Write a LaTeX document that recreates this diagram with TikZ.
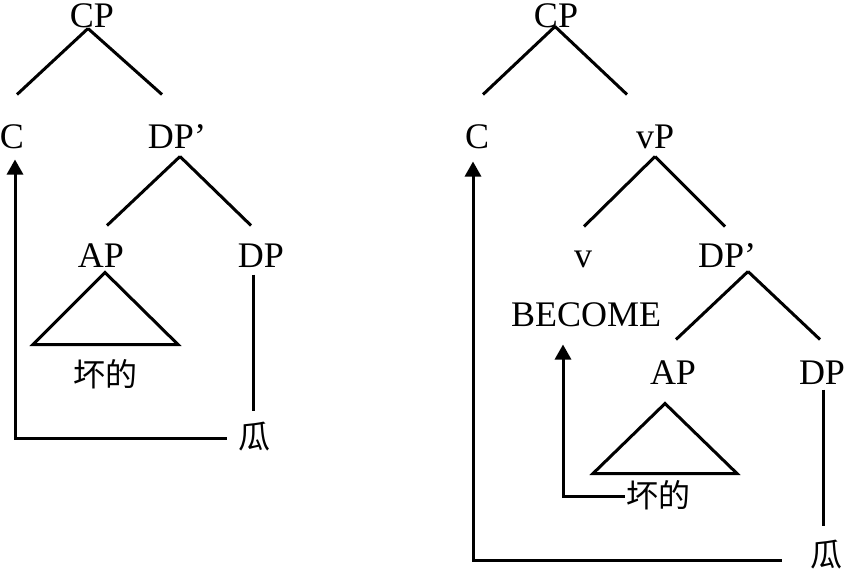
\documentclass[tikz,border=0pt]{standalone}
\usepackage{fontspec}
\setmainfont{Liberation Serif}
\newfontfamily\cjkfont{Noto Sans CJK SC}
\usetikzlibrary{calc, arrows.meta}

\begin{document}
\begin{tikzpicture}[
          x=0.5pt, y=-0.5pt,
          line width=1.5pt,
          cat/.style={
              inner sep=0pt, anchor=base,
              text height=11.5pt, text depth=0pt,
              font=\fontsize{18}{21}\selectfont
          },
          word/.style={
              inner sep=0pt, anchor=base,
              text height=13pt, text depth=0pt,
              font=\fontsize{16}{20}\selectfont\cjkfont
          },
          >={Triangle[length=7.5pt, width=8pt]},
      ]
          \useasboundingbox (0,0) rectangle (850,573);

          % Left tree
          \node [cat] (cpL) at (92,27) {CP};
          \node [cat] (cL) at (12,148) {C};
          \node [cat] (dpbarL) at (177,148) {DP’};
          \node [cat] (apL) at (101,267) {AP};
          \node [cat] (dpL) at (261,267) {DP};
          \node [word] (hdL) at (105,386) {坏的};
          \node [word] (guaL) at (254,448) {瓜};

          \draw ($(cpL.south)+(-4,0)$) -- ($(cL.north)+(5,-29)$);
          \draw ($(cpL.south)+(-4,0)$) -- ($(dpbarL.north)+(-15,-29)$);
          \draw ($(dpbarL.south)+(3,7)$) -- ($(apL.north)+(6,-17)$);
          \draw ($(dpbarL.south)+(3,7)$) -- ($(dpL.north)+(-10,-17)$);
          \draw ($(apL.south)+(4,4)$) -- ++(-72,72) -- ++(145,0) -- cycle;
          \draw ($(dpL.south)+(-8,6)$) -- ($(guaL.north)+(-1,-10)$);

          % Left movement
          \draw [->] ($(guaL.west)+(-10,3)$) -| ($(cL.south)+(3,10)$);

          % Right tree
          \node [cat] (cpR) at (556,27) {CP};
          \node [cat] (cR) at (477,148) {C};
          \node [cat] (vpR) at (655,148) {vP};
          \node [cat] (vR) at (583,267) {v};
          \node [cat] (dpbarR) at (727,267) {DP’};
          \node [cat] (becR) at (586,326) {BECOME};
          \node [cat] (apR) at (673,384) {AP};
          \node [cat] (dpR) at (822,384) {DP};
          \node [word] (hdR) at (658,507) {坏的};
          \node [word] (guaR) at (826,566) {瓜};

          \draw ($(cpR.south)+(-1,-2)$) -- ($(cR.north)+(6,-29)$);
          \draw ($(cpR.south)+(-1,-2)$) -- ($(vpR.north)+(-28,-29)$);
          \draw ($(vpR.south)+(0,7)$) -- ($(vR.north)+(1,-16)$);
          \draw ($(vpR.south)+(0,7)$) -- ($(dpbarR.north)+(-2,-16)$);
          \draw ($(dpbarR.south)+(21,3)$) -- ($(apR.north)+(3,-20)$);
          \draw ($(dpbarR.south)+(21,3)$) -- ($(dpR.north)+(-2,-20)$);
          \draw ($(apR.south)+(-8,18)$) -- ++(-72,70) -- ++(144,0) -- cycle;
          \draw ($(dpR.south)+(1,4)$) -- ($(guaR.north)+(-3,-13)$);

          % Right movements
          \draw [->] ($(hdR.west)+(0,2)$) -| ($(becR.south)+(-23,17)$);
          \draw [->] ($(guaR.west)+(-27,7)$) -| ($(cR.south)+(-4,12)$);
        \end{tikzpicture}
\end{document}
